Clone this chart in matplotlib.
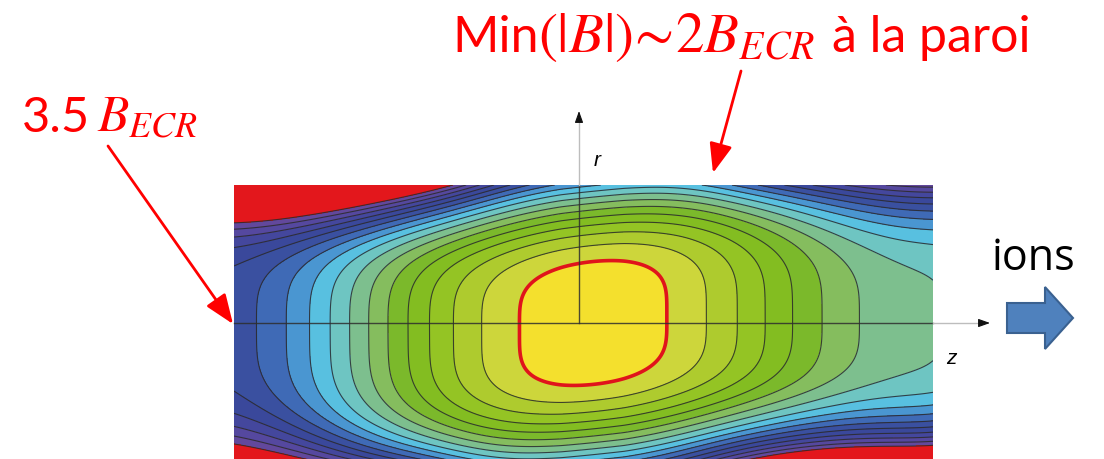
import numpy as np
import matplotlib
matplotlib.use('Agg')
import matplotlib.pyplot as plt
from matplotlib.patches import Polygon

# ---- data ----
# on-axis |B| / B_ECR at positions z (z in units of the chamber radius),
# taken where the contour lines cross the axis
axis_z = [-2.50, -2.326, -2.116, -1.964, -1.804, -1.659, -1.529, -1.384,
          -1.239, -1.065, -0.899, -0.732, -0.464, 0.10, 0.659, 0.928,
          1.145, 1.348, 1.543, 1.761, 2.036, 2.565]
axis_B = [3.30, 3.2, 3.0, 2.8, 2.6, 2.4, 2.2, 2.0,
          1.8, 1.6, 1.4, 1.2, 1.0, 0.873, 1.0, 1.2,
          1.4, 1.6, 1.8, 2.0, 2.2, 2.38]
z_range = [-2.50, 2.565]
r_range = [-1.0, 1.0]
z_min_field = 0.10        # position of the field minimum
sext_strength = 2.70      # hexapole |B| at the wall (B_ECR units)
tilt_lin = 1.0            # solenoid radial field (gradient driven)
tilt_wall = 0.50          # near-wall twist towards the coils
end_growth = 1.30         # off-axis growth of Bz near the coils

line_levels = [1.0, 1.2, 1.4, 1.6, 1.8, 2.0, 2.2, 2.4, 2.6, 2.8, 3.0,
               3.2, 3.4, 3.6, 3.8, 4.0, 4.2]
ecr_level = 1.0
band_colors = ['#F4E02D', '#CDD63B', '#AECB2E', '#94C424', '#83BD21',
               '#7BB92B', '#85BD5E', '#7DBF8E', '#6EC5C2', '#58C0E0',
               '#4A96D1', '#3F6AB6', '#3A50A0', '#3A489B', '#44479D',
               '#55489F', '#62489C', '#E3171C']

# ---- field model (smooth least-squares fit of the on-axis profile) ----
fit_w = np.ones(len(axis_z))
fit_w[0] = fit_w[-1] = 4.0
p = np.polyfit(axis_z, axis_B, 8, w=fit_w)
dp = np.polyder(p)
zz = np.linspace(z_range[0], z_range[1], 800)
rr = np.linspace(r_range[0], r_range[1], 400)
Z, R = np.meshgrid(zz, rr)
Bz = np.polyval(p, Z)
G = np.polyval(dp, Z)
Bz0 = min(axis_B)
excess = np.clip(Bz - Bz0, 0, None)
D = excess * np.tanh((Z - z_min_field) / 0.5)
Bz_r = Bz + end_growth * np.tanh(excess / 0.6) * R ** 4
Bv = sext_strength * R ** 2 - tilt_lin * G * R / 2.0 - tilt_wall * D * R ** 3
B = np.sqrt(Bz_r ** 2 + Bv ** 2)

plt.rcParams['mathtext.fontset'] = 'stix'
W, H = 1104, 460
fig = plt.figure(figsize=(W / 100, H / 100), dpi=100)

ax = fig.add_axes([234 / W, (460 - 462) / H, 699 / W, 276 / H])
bounds = [min(B.min(), 0.0) - 1] + line_levels + [B.max() + 1]
ax.contourf(Z, R, B, levels=bounds, colors=band_colors)
ax.contour(Z, R, B, levels=[l for l in line_levels if l != ecr_level],
           colors='#2a2a2a', linewidths=0.8, alpha=0.85)
ax.contour(Z, R, B, levels=[ecr_level], colors='#E0141B', linewidths=2.6)
ax.set_xlim(z_range)
ax.set_ylim(r_range)
ax.axis('off')

ov = fig.add_axes([0, 0, 1, 1])
ov.set_xlim(0, W)
ov.set_ylim(H, 0)
ov.axis('off')
ov.patch.set_alpha(0)
renderer = fig.canvas.get_renderer()

# coordinate axes: dark over the map, light grey outside, black heads
ov.plot([234, 933], [324, 324], color='#2e2e2e', lw=1.0, alpha=0.85)
ov.plot([933, 984], [324, 324], color='#bdbdbd', lw=1.0)
ov.plot([579, 579], [324, 186], color='#2e2e2e', lw=1.0, alpha=0.85)
ov.plot([579, 579], [186, 118], color='#bdbdbd', lw=1.0)
head = dict(arrowstyle='-|>,head_length=0.7,head_width=0.25', color='#111111',
            lw=0.8, shrinkA=0, shrinkB=0, mutation_scale=10)
ov.annotate('', xy=(990, 324), xytext=(982, 324), arrowprops=head)
ov.annotate('', xy=(579, 112), xytext=(579, 120), arrowprops=head)
ov.text(594, 166, 'r', style='italic', fontsize=15, family='Liberation Sans')
ov.text(946, 364, 'z', style='italic', fontsize=15, family='Liberation Sans')

# red callouts
red_arrow = dict(arrowstyle='-|>,head_length=0.9,head_width=0.35', color='#FF0000',
                 lw=2, shrinkA=0, shrinkB=0, mutation_scale=20)
ov.annotate('', xy=(233, 325), xytext=(108, 147), arrowprops=red_arrow)
ov.annotate('', xy=(713, 174), xytext=(741, 72), arrowprops=red_arrow)


def place(pieces, x, y):
    for s, size, fam, gap in pieces:
        kw = dict(color='#FF0000', fontsize=size, va='baseline', ha='left')
        if fam:
            kw['family'] = fam
        t = ov.text(x, y, s, **kw)
        bb = t.get_window_extent(renderer)
        x = bb.x1 + gap


place([('Min', 36, 'Lato', 0),
       (r'$(|B|)\!\sim\!2B_{ECR}$', 41, None, 16),
       ('à la paroi', 36, 'Lato', 0)], 452, 52)
place([('3.5', 35, 'Lato', 7),
       (r'$B_{ECR}$', 37, None, 0)], 22, 132)

ov.text(992, 270, 'ions', color='black', fontsize=31, family='Open Sans',
        va='baseline', ha='left')

# blue block arrow
ov.add_patch(Polygon([(1007, 304), (1045, 304), (1045, 288), (1073, 319),
                      (1045, 350), (1045, 334), (1007, 334)], closed=True,
                     facecolor='#4F81BD', edgecolor='#3A6190', lw=1.5))

fig.savefig('out.png', dpi=100)
